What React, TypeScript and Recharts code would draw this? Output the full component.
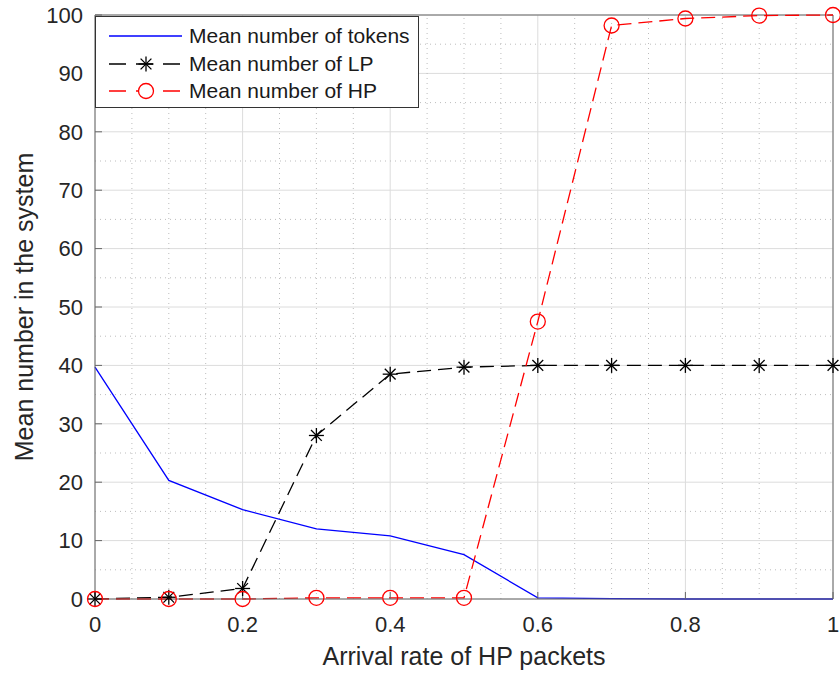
import React from 'react';
import {
  LineChart,
  Line,
  XAxis,
  YAxis,
  CartesianGrid,
  ReferenceLine,
} from 'recharts';

const rates = [0, 0.1, 0.2, 0.3, 0.4, 0.5, 0.6, 0.7, 0.8, 0.9, 1];
const tokens = [39.7, 20.3, 15.3, 12.0, 10.8, 7.6, 0.2, 0.05, 0, 0, 0];
const lpCount = [0, 0.3, 1.8, 28.0, 38.5, 39.7, 40.0, 40.0, 40.0, 40.0, 40.0];
const hpCount = [0, 0, 0, 0.2, 0.2, 0.2, 47.5, 98.2, 99.4, 99.9, 100];

const xTicks = [0, 0.2, 0.4, 0.6, 0.8, 1];
const yTicks = [0, 10, 20, 30, 40, 50, 60, 70, 80, 90, 100];
const xMinor = [0.05, 0.1, 0.15, 0.25, 0.3, 0.35, 0.45, 0.5, 0.55, 0.65, 0.7, 0.75, 0.85, 0.9, 0.95];
const yMinor = [5, 15, 25, 35, 45, 55, 65, 75, 85, 95];

const data = rates.map((r, i) => ({
  rate: r,
  tokens: tokens[i],
  lp: lpCount[i],
  hp: hpCount[i],
}));

const FONT = '"Liberation Sans", Arial, Helvetica, sans-serif';
const AXIS = '#262626';

function Star(props: any) {
  const { cx, cy } = props;
  if (cx == null || cy == null) return null;
  const r = 7.5;
  const d = r * 0.72;
  return (
    <g stroke="#000" strokeWidth={1.3}>
      <line x1={cx - r} y1={cy} x2={cx + r} y2={cy} />
      <line x1={cx} y1={cy - r} x2={cx} y2={cy + r} />
      <line x1={cx - d} y1={cy - d} x2={cx + d} y2={cy + d} />
      <line x1={cx - d} y1={cy + d} x2={cx + d} y2={cy - d} />
    </g>
  );
}

function Ring(props: any) {
  const { cx, cy } = props;
  if (cx == null || cy == null) return null;
  return <circle cx={cx} cy={cy} r={7.5} fill="none" stroke="#ff0000" strokeWidth={1.3} />;
}

function LegendBox() {
  const rows = [
    { label: 'Mean number of tokens', color: '#0000ff', dash: undefined, mark: null },
    { label: 'Mean number of LP', color: '#000', dash: '17 10', mark: 'star' },
    { label: 'Mean number of HP', color: '#ff0000', dash: '17 10', mark: 'ring' },
  ];
  return (
    <div
      style={{
        position: 'absolute',
        left: 95,
        top: 16,
        width: 322,
        height: 90,
        background: '#fff',
        border: '1.5px solid #333',
        fontFamily: FONT,
        fontSize: 21,
        color: '#1a1a1a',
      }}
    >
      {rows.map((row, i) => (
        <div key={row.label} style={{ position: 'absolute', left: 0, top: 6 + i * 27.5, height: 26, width: 320 }}>
          <svg width={90} height={26} style={{ position: 'absolute', left: 0, top: 0 }}>
            <line x1={13} y1={13} x2={86} y2={13} stroke={row.color} strokeWidth={1.3} strokeDasharray={row.dash} />
            {row.mark === 'star' && <Star cx={50} cy={13} />}
            {row.mark === 'ring' && <circle cx={50} cy={13} r={7.5} fill="#fff" stroke="#ff0000" strokeWidth={1.3} />}
          </svg>
          <span style={{ position: 'absolute', left: 93, top: 0, lineHeight: '26px', whiteSpace: 'nowrap' }}>{row.label}</span>
        </div>
      ))}
    </div>
  );
}

export default function App() {
  return (
    <div style={{ position: 'absolute', left: 0, top: 0, width: 840, height: 674, background: '#fff' }}>
      <LineChart
        width={840}
        height={674}
        data={data}
        margin={{ top: 15, right: 7, bottom: 35, left: 35 }}
      >
        <CartesianGrid stroke="#dcdcdc" vertical horizontal />
        {xMinor.map((v) => (
          <ReferenceLine key={'vx' + v} x={v} stroke="#bdbdbd" strokeDasharray="1 4" />
        ))}
        {yMinor.map((v) => (
          <ReferenceLine key={'hy' + v} y={v} stroke="#bdbdbd" strokeDasharray="1 4" />
        ))}
        <XAxis
          dataKey="rate"
          type="number"
          domain={[0, 1]}
          ticks={xTicks}
          height={40}
          stroke="#666"
          tickSize={-7}
          tickMargin={24}
          tick={{ fill: AXIS, fontSize: 22, fontFamily: FONT }}
          label={{ value: 'Arrival rate of HP packets', position: 'insideBottom', offset: -26, fill: AXIS, fontSize: 25, fontFamily: FONT }}
        />
        <YAxis
          type="number"
          domain={[0, 100]}
          ticks={yTicks}
          width={60}
          stroke="#666"
          tickSize={-7}
          tickMargin={19}
          tick={{ fill: AXIS, fontSize: 22, fontFamily: FONT }}
          label={{ value: 'Mean number in the system', angle: -90, position: 'insideLeft', offset: -11, dy: 0, style: { textAnchor: 'middle' }, fill: AXIS, fontSize: 25, fontFamily: FONT }}
        />
        <ReferenceLine y={100} stroke="#666" />
        <ReferenceLine x={1} stroke="#666" />
        <Line dataKey="tokens" stroke="#0000ff" strokeWidth={1.3} dot={false} isAnimationActive={false} />
        <Line dataKey="lp" stroke="#000" strokeWidth={1.3} strokeDasharray="14 7" dot={<Star />} activeDot={false} isAnimationActive={false} />
        <Line dataKey="hp" stroke="#ff0000" strokeWidth={1.3} strokeDasharray="14 7" dot={<Ring />} activeDot={false} isAnimationActive={false} />
      </LineChart>
      <LegendBox />
    </div>
  );
}
